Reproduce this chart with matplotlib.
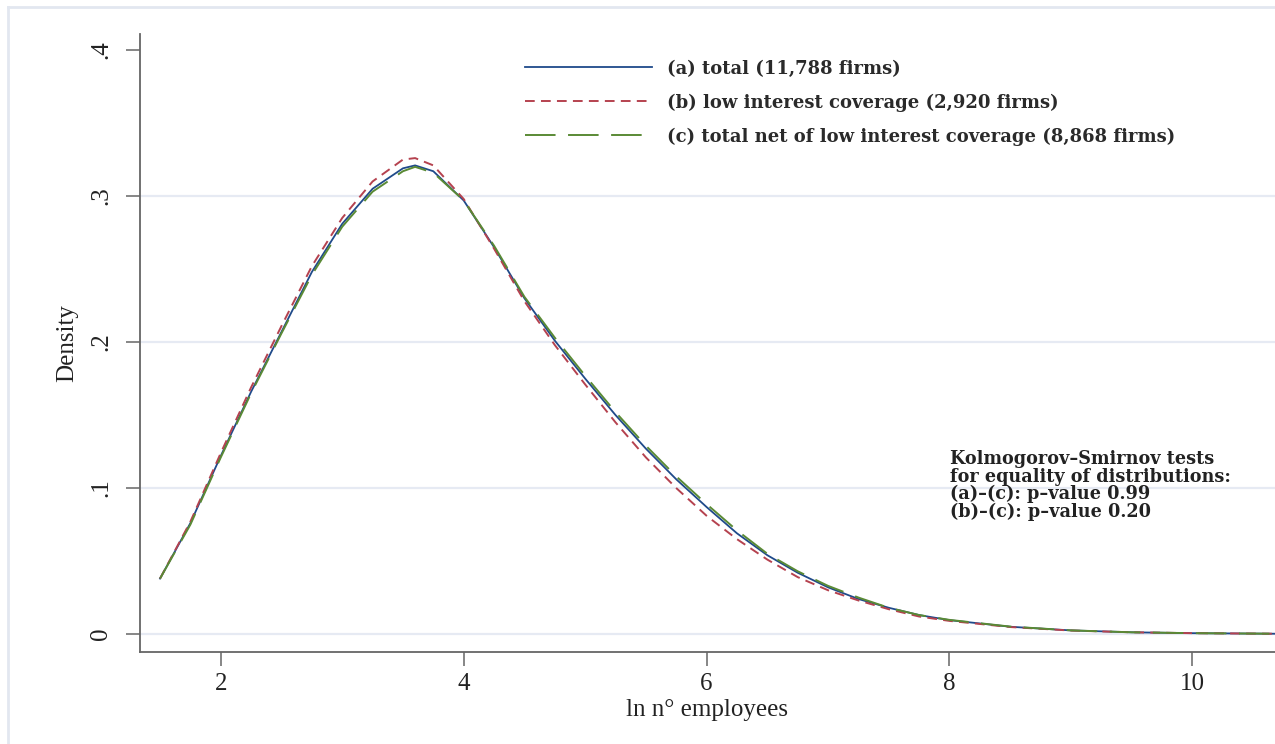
import matplotlib
matplotlib.use("Agg")
import matplotlib.pyplot as plt
from matplotlib.lines import Line2D

# ---- data ----
x_vals = [1.5, 1.75, 2.0, 2.25, 2.5, 2.75, 3.0, 3.25, 3.5, 3.6, 3.75, 4.0, 4.25, 4.5,
          4.75, 5.0, 5.25, 5.5, 5.75, 6.0, 6.25, 6.5, 6.75, 7.0, 7.25, 7.5, 7.75,
          8.0, 8.5, 9.0, 9.5, 10.0, 10.7]
dens_total = [0.038, 0.076, 0.122, 0.166, 0.207, 0.248, 0.281, 0.305, 0.319, 0.321, 0.317,
              0.297, 0.265, 0.230, 0.201, 0.175, 0.150, 0.127, 0.106, 0.087, 0.069, 0.054,
              0.042, 0.032, 0.024, 0.018, 0.013, 0.0095, 0.005, 0.0025, 0.0012, 0.0006, 0.0002]
dens_low = [0.038, 0.077, 0.124, 0.169, 0.211, 0.252, 0.285, 0.310, 0.325, 0.326, 0.321,
            0.298, 0.264, 0.228, 0.198, 0.171, 0.145, 0.121, 0.100, 0.081, 0.065, 0.051,
            0.039, 0.030, 0.023, 0.017, 0.012, 0.009, 0.0048, 0.0024, 0.0012, 0.0006, 0.0002]
dens_net = [0.038, 0.075, 0.121, 0.165, 0.206, 0.246, 0.279, 0.303, 0.317, 0.320, 0.316,
            0.297, 0.266, 0.231, 0.203, 0.177, 0.152, 0.129, 0.108, 0.089, 0.071, 0.055,
            0.043, 0.033, 0.025, 0.018, 0.013, 0.0097, 0.0051, 0.0025, 0.0012, 0.0006, 0.0002]

labels = ["(a) total (11,788 firms)",
          "(b) low interest coverage (2,920 firms)",
          "(c) total net of low interest coverage (8,868 firms)"]
xticks = [2, 4, 6, 8, 10]
yticks = [0, 0.1, 0.2, 0.3, 0.4]
ytick_labels = ["0", ".1", ".2", ".3", ".4"]
ks_text = ("Kolmogorov\u2013Smirnov tests\nfor equality of distributions:\n"
           "(a)\u2013(c): p\u2013value 0.99\n(b)\u2013(c): p\u2013value 0.20")

# ---- styling ----
plt.rcParams['lines.scale_dashes'] = False
navy = "#1f4a8a"
maroon = "#b5424f"
green = "#5a8a35"
axis_font = "Liberation Serif"
text_font = "DejaVu Serif"

W, H = 1275, 744
fig = plt.figure(figsize=(W / 100, H / 100), dpi=100)
fig.patch.set_facecolor("white")

# outer frame (left & top visible)
fig.add_artist(Line2D([8 / W, 8 / W], [0, 1 - 7 / H], transform=fig.transFigure,
                      color="#e2e7f0", lw=2))
fig.add_artist(Line2D([8 / W, 1], [1 - 7 / H, 1 - 7 / H], transform=fig.transFigure,
                      color="#e2e7f0", lw=2))

ax = fig.add_axes([140 / W, (H - 652) / H, 1 - 140 / W, (652 - 34) / H])

for yv in [0, 0.1, 0.2, 0.3]:
    ax.axhline(yv, color="#e6eaf3", lw=1.6, zorder=0)

ax.plot(x_vals, dens_total, color=navy, lw=1.3, zorder=2, label=labels[0])
ax.plot(x_vals, dens_low, color=maroon, lw=1.4, dashes=(7, 4.5), zorder=3, label=labels[1])
ax.plot(x_vals, dens_net, color=green, lw=1.4, dashes=(22, 9), zorder=4, label=labels[2])

ax.set_xlim(1.335, 10.68)
ax.set_ylim(-0.0123, 0.411)

for s in ["top", "right"]:
    ax.spines[s].set_visible(False)
for s in ["left", "bottom"]:
    ax.spines[s].set_color("#666666")
    ax.spines[s].set_linewidth(1.3)

ax.set_xticks(xticks)
ax.set_xticklabels([str(t) for t in xticks], fontfamily=axis_font, fontsize=18)
ax.set_yticks(yticks)
ax.set_yticklabels(ytick_labels, fontfamily=axis_font, fontsize=18, rotation=90, va="center")
ax.tick_params(axis="both", direction="out", length=10, width=1.1, color="#666666",
               labelcolor="#222222")
ax.tick_params(axis="x", pad=5)
ax.tick_params(axis="y", pad=10)

ax.set_xlabel("ln n\u00b0 employees", fontfamily=axis_font, fontsize=18, color="#222222",
              labelpad=3)
ax.set_ylabel("Density", fontfamily=axis_font, fontsize=18, color="#222222", labelpad=9)

leg = ax.legend(loc="upper left", bbox_to_anchor=((509 - 140) / (W - 140), 0.985),
                frameon=False, handlelength=7.0, handletextpad=0.85, labelspacing=0.88,
                prop={"family": text_font, "size": 13, "weight": "bold"})
for t in leg.get_texts():
    t.set_color("#2a2a2a")

fig.text(950 / W, 1 - 450 / H, ks_text, fontfamily=text_font, fontsize=12.7,
         fontweight="bold", color="#222222", va="top", ha="left", linespacing=0.97)

fig.savefig("out.png", dpi=100, facecolor="white")
